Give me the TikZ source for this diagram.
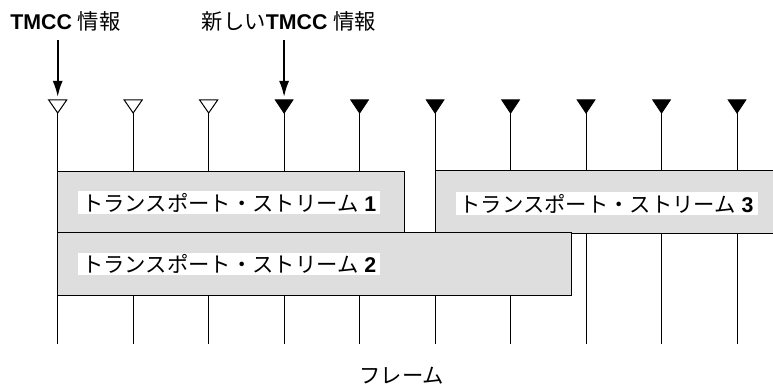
\documentclass[tikz,border=0pt]{standalone}
\usepackage{fontspec}
\setmainfont{Liberation Sans}
\newfontfamily\jp{Noto Sans CJK JP}
\usetikzlibrary{arrows.meta}
\begin{document}
\begin{tikzpicture}[x=0.75pt,y=-0.75pt,line width=0.75pt,
  lbl/.style={font=\fontsize{16}{19}\selectfont,inner sep=0pt},
  stream/.style={draw=black,fill=black!13},
  tag/.style={lbl,fill=white,inner xsep=3pt,inner ysep=0pt,minimum height=16.5pt,anchor=west},
  pointer/.style={line width=1.5pt,-{Latex[length=12pt,width=7.5pt]}},
  openmark/.style={draw=black,line width=0.75pt,line join=miter,fill=white},
  fullmark/.style={draw=black,line width=0.75pt,line join=miter,fill=black},
  tick/.style={draw=black,line width=0.75pt}]
\useasboundingbox (0,0) rectangle (773,388);
% ticks
\foreach \i in {1,...,10}{
  \pgfmathsetmacro{\xx}{57.7+75.48*(\i-1)}
  \coordinate (top\i) at (\xx,100);
  \coordinate (tip\i) at (\xx,113);
  \coordinate (bot\i) at (\xx,344);
  \draw[tick] (tip\i) -- (bot\i);
}
\foreach \i in {1,2,3}{
  \draw[openmark] ([xshift=-6.75pt]top\i) -- ([xshift=6.75pt]top\i) -- (tip\i) -- cycle;
}
\foreach \i in {4,...,10}{
  \draw[fullmark] ([xshift=-6.5pt]top\i) -- ([xshift=6.5pt]top\i) -- (tip\i) -- cycle;
}
% streams
\draw[stream] (57.7,172) rectangle (404.5,232.5);
\draw[stream] (435.7,171) rectangle (775,233);
\draw[stream] (57.7,232.5) rectangle (571,295);
\node[tag] (ts1) at (77.7,202.5) {{\jp トランスポート・ストリーム} \textbf{1}};
\node[tag] (ts2) at (77.7,263.5) {{\jp トランスポート・ストリーム} \textbf{2}};
\node[tag] (ts3) at (455,203.5) {{\jp トランスポート・ストリーム} \textbf{3}};
% titles and pointers
\node[lbl] (tmcc) at (65.5,21) {\textbf{TMCC} {\jp 情報}};
\node[lbl] (newtmcc) at (289,21) {{\jp 新しい}\textbf{TMCC} {\jp 情報}};
\coordinate (p1) at (57.7,40);
\coordinate (p4) at (284.1,40);
\coordinate (e1) at (57.7,97);
\coordinate (e4) at (284.1,97);
\draw[pointer] (p1) -- (e1);
\draw[pointer] (p4) -- (e4);
\node[lbl] (frame) at (401.7,376) {\jp フレーム};
\end{tikzpicture}
\end{document}
